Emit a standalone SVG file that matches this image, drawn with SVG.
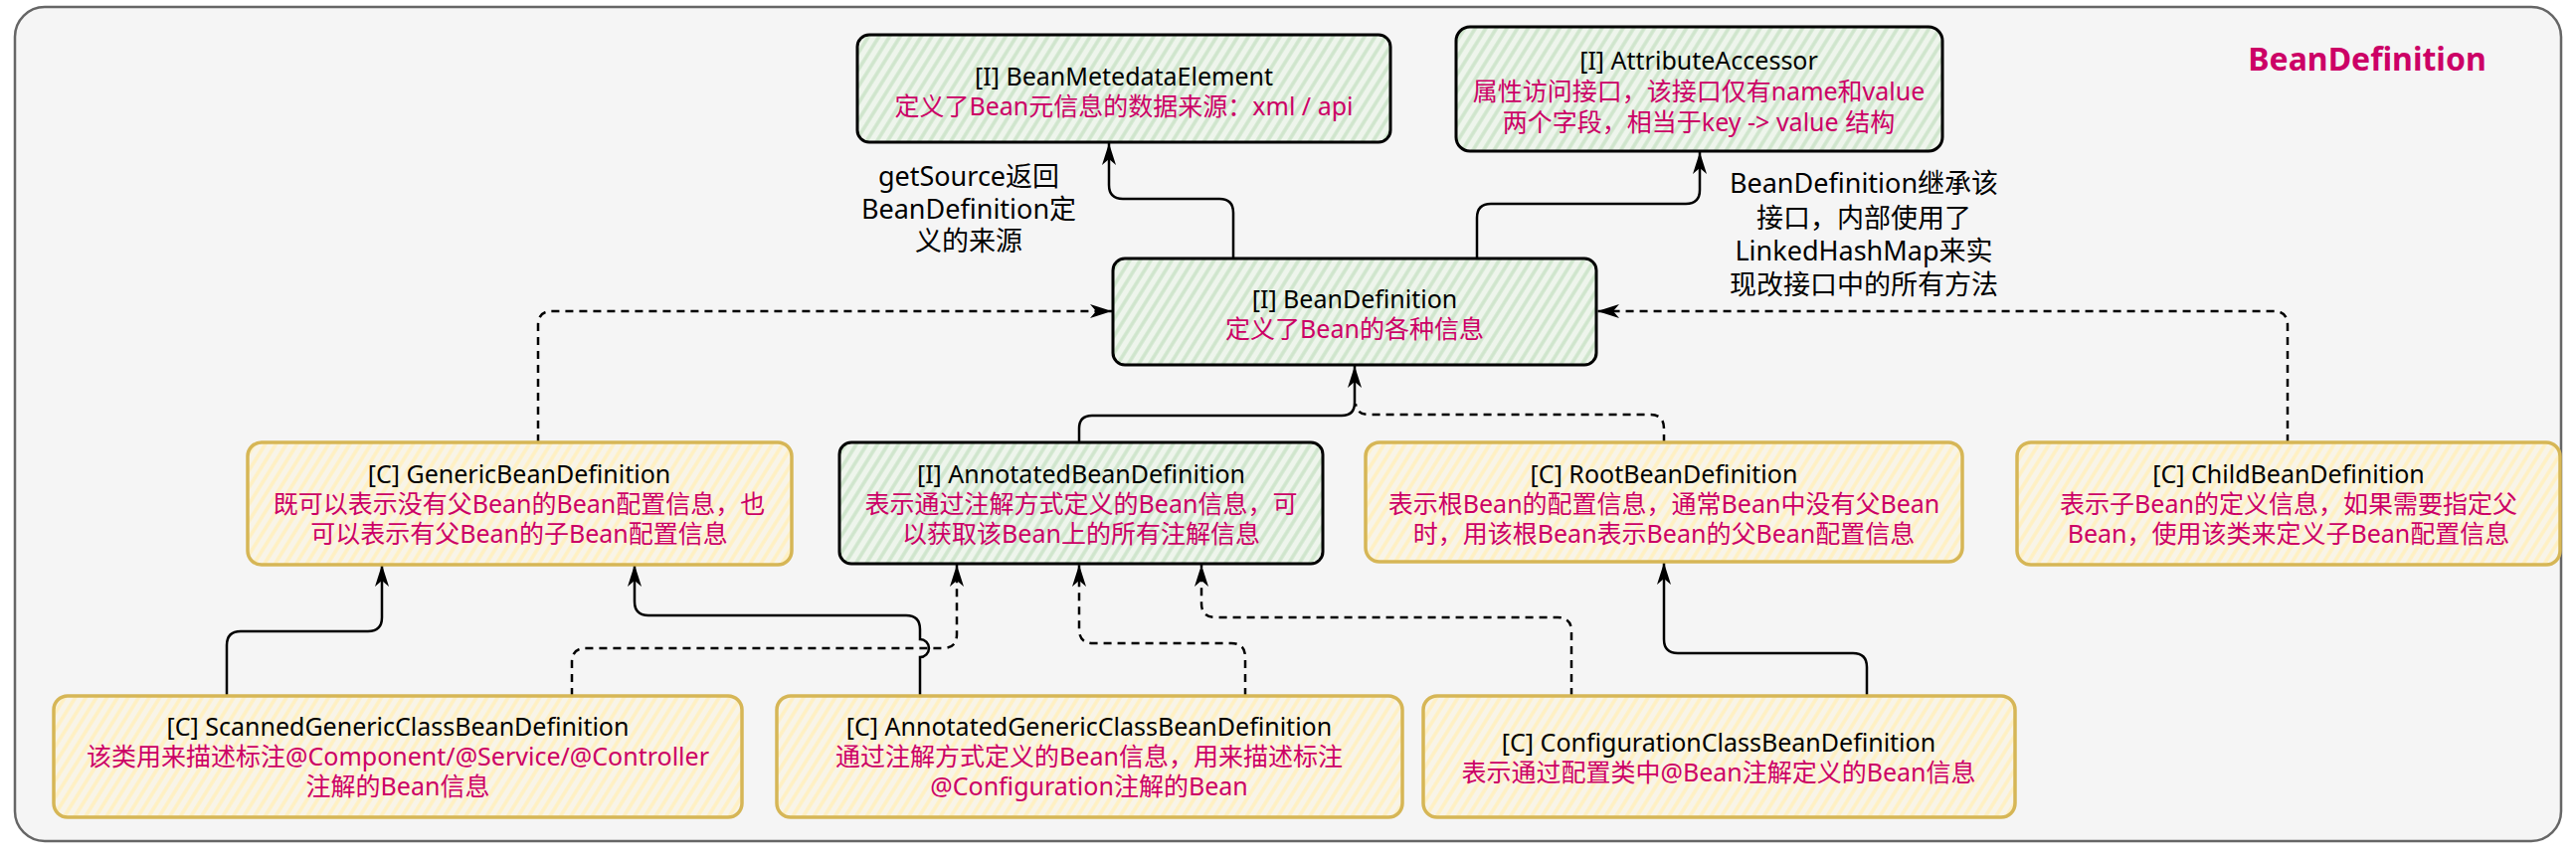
<svg xmlns="http://www.w3.org/2000/svg" width="2590" height="862" viewBox="0 0 2590 862">
<defs>
<pattern id="hatchG" patternUnits="userSpaceOnUse" width="9" height="9" patternTransform="rotate(32)">
<rect width="9" height="9" fill="#eef5ec"/>
<line x1="4" y1="0" x2="4" y2="9" stroke="#cfe5cc" stroke-width="3.5"/>
</pattern>
<pattern id="hatchY" patternUnits="userSpaceOnUse" width="9" height="9" patternTransform="rotate(32)">
<rect width="9" height="9" fill="#f8f4e8"/>
<line x1="4" y1="0" x2="4" y2="9" stroke="#fff0c2" stroke-width="3.5"/>
</pattern>
<marker id="arr" markerUnits="userSpaceOnUse" markerWidth="24" markerHeight="16" refX="22" refY="8" orient="auto">
<path d="M0,1 L22,8 L0,15 L6,8 Z" fill="#000"/>
</marker>
</defs>
<style>
.t{font-family:"Noto Sans","Noto Sans CJK SC",sans-serif;font-size:25px;text-anchor:middle}
.h{fill:#000}
.m{fill:#cc0066}
.lb{font-family:"Noto Sans","Noto Sans CJK SC",sans-serif;font-size:27px;text-anchor:middle;fill:#000}
.g{fill:url(#hatchG);stroke:#000;stroke-width:3}
.y{fill:url(#hatchY);stroke:#d6b656;stroke-width:3.5}
.s{fill:none;stroke:#000;stroke-width:2.5}
.d{fill:none;stroke:#000;stroke-width:2.5;stroke-dasharray:8 6}
</style>
<rect x="15" y="7" width="2560" height="839" rx="30" fill="#f5f5f5" stroke="#666" stroke-width="2.5"/>
<text x="2380" y="71" font-family="Noto Sans,Noto Sans CJK SC,sans-serif" font-size="32" font-weight="bold" fill="#cc0066" text-anchor="middle">BeanDefinition</text>

<g id="connectors">
<path class="s" d="M1240,260 V214 Q1240,200 1226,200 H1129 Q1115,200 1115,186 V144" marker-end="url(#arr)"/>
<path class="s" d="M1485,260 V219 Q1485,205 1499,205 H1695 Q1709,205 1709,191 V153" marker-end="url(#arr)"/>
<path class="d" d="M541,445 V327 Q541,313 555,313 H1118" marker-end="url(#arr)"/>
<path class="d" d="M2300,445 V327 Q2300,313 2286,313 H1606" marker-end="url(#arr)"/>
<path class="s" d="M1085,445 V431 Q1085,418 1098,418 H1349 Q1362,418 1362,405 V368" marker-end="url(#arr)"/>
<path class="d" d="M1673,445 V431 Q1673,417 1659,417 H1376 Q1364,417 1363,406"/>
<path class="s" d="M228,700 V649 Q228,635 242,635 H370 Q384,635 384,621 V568" marker-end="url(#arr)"/>
<path class="s" d="M925,700 V661 A9,9 0 0 0 925,643 V633 Q925,619 911,619 H652 Q638,619 638,605 V568" marker-end="url(#arr)"/>
<path class="d" d="M575,700 V666 Q575,652 589,652 H948 Q962,652 962,638 V568" marker-end="url(#arr)"/>
<path class="d" d="M1252,700 V661 Q1252,647 1238,647 H1099 Q1085,647 1085,633 V568" marker-end="url(#arr)"/>
<path class="d" d="M1580,700 V635 Q1580,621 1566,621 H1222 Q1208,621 1208,607 V568" marker-end="url(#arr)"/>
<path class="s" d="M1877,700 V671 Q1877,657 1863,657 H1687 Q1673,657 1673,643 V566" marker-end="url(#arr)"/>
<text class="lb"><tspan x="974" y="187">getSource返回</tspan><tspan x="974" y="220">BeanDefinition定</tspan><tspan x="974" y="252">义的来源</tspan></text>
<text class="lb"><tspan x="1874" y="194">BeanDefinition继承该</tspan><tspan x="1874" y="229">接口，内部使用了</tspan><tspan x="1874" y="262">LinkedHashMap来实</tspan><tspan x="1874" y="296">现改接口中的所有方法</tspan></text>
</g>

<g id="BeanMetedataElement">
<rect class="g" x="862" y="35" width="536" height="108" rx="12"/>
<text class="t"><tspan class="h" x="1130" y="86">[I] BeanMetedataElement</tspan><tspan class="m" x="1130" y="116">定义了Bean元信息的数据来源：xml / api</tspan></text>
</g>
<g id="AttributeAccessor">
<rect class="g" x="1464" y="27" width="489" height="125" rx="14"/>
<text class="t"><tspan class="h" x="1708" y="70">[I] AttributeAccessor</tspan><tspan class="m" x="1708" y="101">属性访问接口，该接口仅有name和value</tspan><tspan class="m" x="1708" y="132">两个字段，相当于key -&gt; value 结构</tspan></text>
</g>
<g id="BeanDefinitionNode">
<rect class="g" x="1119" y="260" width="486" height="107" rx="12"/>
<text class="t"><tspan class="h" x="1362" y="310">[I] BeanDefinition</tspan><tspan class="m" x="1362" y="340">定义了Bean的各种信息</tspan></text>
</g>
<g id="GenericBeanDefinition">
<rect class="y" x="249" y="445" width="547" height="123" rx="14"/>
<text class="t"><tspan class="h" x="522" y="486">[C] GenericBeanDefinition</tspan><tspan class="m" x="522" y="516">既可以表示没有父Bean的Bean配置信息，也</tspan><tspan class="m" x="522" y="546">可以表示有父Bean的子Bean配置信息</tspan></text>
</g>
<g id="AnnotatedBeanDefinition">
<rect class="g" x="844" y="445" width="486" height="122" rx="12"/>
<text class="t"><tspan class="h" x="1087" y="486">[I] AnnotatedBeanDefinition</tspan><tspan class="m" x="1087" y="516">表示通过注解方式定义的Bean信息，可</tspan><tspan class="m" x="1087" y="546">以获取该Bean上的所有注解信息</tspan></text>
</g>
<g id="RootBeanDefinition">
<rect class="y" x="1373" y="445" width="600" height="120" rx="14"/>
<text class="t"><tspan class="h" x="1673" y="486">[C] RootBeanDefinition</tspan><tspan class="m" x="1673" y="516">表示根Bean的配置信息，通常Bean中没有父Bean</tspan><tspan class="m" x="1673" y="546">时，用该根Bean表示Bean的父Bean配置信息</tspan></text>
</g>
<g id="ChildBeanDefinition">
<rect class="y" x="2028" y="445" width="546" height="123" rx="14"/>
<text class="t"><tspan class="h" x="2301" y="486">[C] ChildBeanDefinition</tspan><tspan class="m" x="2301" y="516">表示子Bean的定义信息，如果需要指定父</tspan><tspan class="m" x="2301" y="546">Bean，使用该类来定义子Bean配置信息</tspan></text>
</g>
<g id="ScannedGenericClassBeanDefinition">
<rect class="y" x="54" y="700" width="692" height="122" rx="14"/>
<text class="t"><tspan class="h" x="400" y="740">[C] ScannedGenericClassBeanDefinition</tspan><tspan class="m" x="400" y="770">该类用来描述标注@Component/@Service/@Controller</tspan><tspan class="m" x="400" y="800">注解的Bean信息</tspan></text>
</g>
<g id="AnnotatedGenericClassBeanDefinition">
<rect class="y" x="781" y="700" width="629" height="122" rx="14"/>
<text class="t"><tspan class="h" x="1095" y="740">[C] AnnotatedGenericClassBeanDefinition</tspan><tspan class="m" x="1095" y="770">通过注解方式定义的Bean信息，用来描述标注</tspan><tspan class="m" x="1095" y="800">@Configuration注解的Bean</tspan></text>
</g>
<g id="ConfigurationClassBeanDefinition">
<rect class="y" x="1431" y="700" width="595" height="122" rx="14"/>
<text class="t"><tspan class="h" x="1728" y="756">[C] ConfigurationClassBeanDefinition</tspan><tspan class="m" x="1728" y="786">表示通过配置类中@Bean注解定义的Bean信息</tspan></text>
</g>
</svg>
